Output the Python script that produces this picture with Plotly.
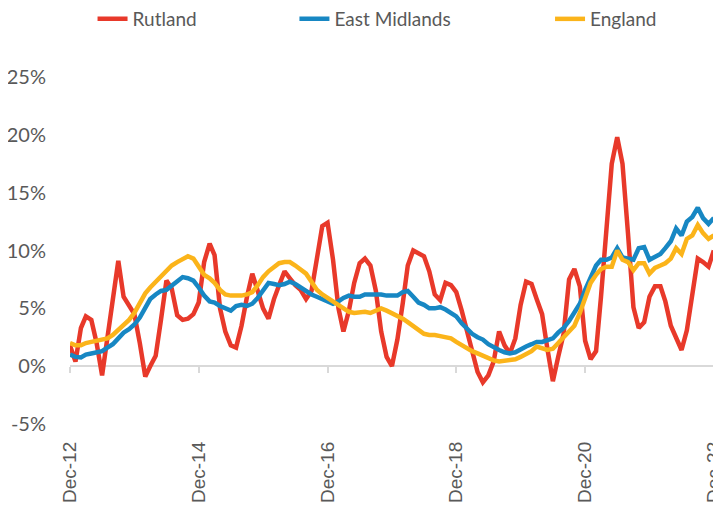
import pandas as pd
import plotly.graph_objects as go

# Monthly dates, Dec-2012 .. Dec-2022
months = pd.date_range("2012-12-01", "2022-12-01", freq="MS")

rutland = [
    1.8, 0.4, 3.3, 4.3, 4.0, 2.0, -0.8, 2.5, 6.0, 9.1,
    6.0, 5.2, 4.5, 2.0, -0.9, 0.0, 0.9, 4.0, 7.4, 6.7,
    4.4, 4.0, 4.1, 4.5, 5.5, 9.0, 10.6, 9.6, 5.0, 3.0,
    1.8, 1.6, 3.5, 6.0, 8.0, 6.5, 5.0, 4.1, 5.8, 7.0,
    8.2, 7.6, 7.0, 6.6, 5.8, 6.5, 9.5, 12.1, 12.4, 9.2,
    5.0, 3.0, 4.8, 7.2, 8.9, 9.3, 8.7, 6.5, 3.0, 0.8,
    0.0, 2.3, 5.5, 8.7, 10.0, 9.8, 9.5, 8.2, 6.2, 5.7,
    7.2, 7.0, 6.4, 4.8, 3.0, 1.3, -0.5, -1.4, -0.8, 0.4,
    3.0, 1.8, 1.1, 2.4, 5.3, 7.3, 7.1, 5.8, 4.5, 1.5,
    -1.3, 0.8, 2.8, 7.5, 8.4, 6.9, 2.2, 0.6, 1.3, 6.0,
    12.3, 17.5, 19.8, 17.5, 11.5, 5.1, 3.3, 3.8, 6.0, 6.9,
    6.9, 5.6, 3.5, 2.5, 1.4, 3.1, 6.5, 9.3, 9.0, 8.6,
    10.0,
]

east_midlands = [
    1.0, 0.8, 0.75, 1.0, 1.1, 1.2, 1.3, 1.6, 1.9, 2.4,
    2.9, 3.2, 3.6, 4.2, 5.0, 5.8, 6.2, 6.5, 6.6, 7.0,
    7.3, 7.7, 7.6, 7.4, 6.8, 6.1, 5.6, 5.5, 5.2, 5.0,
    4.8, 5.2, 5.3, 5.2, 5.4, 5.9, 6.6, 7.2, 7.1, 7.0,
    7.1, 7.3, 7.1, 6.8, 6.4, 6.2, 6.0, 5.8, 5.6, 5.4,
    5.6, 5.9, 6.1, 6.0, 6.0, 6.2, 6.2, 6.2, 6.2, 6.1,
    6.1, 6.1, 6.4, 6.5, 6.0, 5.5, 5.3, 5.0, 5.0, 5.1,
    4.9, 4.6, 4.3, 3.7, 3.2, 2.8, 2.5, 2.3, 1.9, 1.6,
    1.4, 1.2, 1.1, 1.2, 1.5, 1.7, 1.9, 2.1, 2.1, 2.2,
    2.4, 2.9, 3.3, 3.9, 4.6, 5.4, 6.6, 7.7, 8.7, 9.2,
    9.2, 9.4, 10.2, 9.4, 9.3, 9.2, 10.2, 10.3, 9.2, 9.4,
    9.7, 10.2, 10.8, 11.9, 11.3, 12.5, 12.9, 13.7, 12.8, 12.3,
    12.8,
]

england = [
    2.0, 1.8, 1.8, 2.0, 2.1, 2.2, 2.3, 2.4, 2.7, 3.1,
    3.6, 4.0, 4.6, 5.4, 6.3, 6.8, 7.3, 7.8, 8.3, 8.7,
    9.0, 9.2, 9.5, 9.3, 8.6, 7.9, 7.6, 7.2, 6.6, 6.2,
    6.1, 6.1, 6.1, 6.2, 6.4, 7.0, 7.7, 8.2, 8.6, 8.9,
    9.0, 9.0, 8.7, 8.4, 8.0, 7.3, 6.6, 6.2, 5.9, 5.5,
    5.2, 4.9, 4.7, 4.6, 4.7, 4.7, 4.6, 4.8, 5.0, 4.8,
    4.6, 4.4, 4.1, 3.8, 3.5, 3.1, 2.8, 2.7, 2.7, 2.6,
    2.5, 2.4, 2.1, 1.8, 1.5, 1.3, 1.1, 0.9, 0.7, 0.5,
    0.4, 0.45, 0.5, 0.6, 0.8, 1.0, 1.3, 1.7, 1.5, 1.4,
    1.5, 2.0, 2.5, 3.0, 3.5, 4.6, 6.0, 7.2, 7.9, 8.4,
    8.6, 8.6, 10.0, 9.2, 9.0, 8.3, 8.9, 8.9, 8.0, 8.5,
    8.7, 8.9, 9.3, 10.2, 9.7, 11.0, 11.3, 12.2, 11.5, 11.0,
    11.3,
]

tick_dates = ["2012-12-01", "2014-12-01", "2016-12-01", "2018-12-01", "2020-12-01", "2022-12-01"]
tick_labels = ["Dec-12", "Dec-14", "Dec-16", "Dec-18", "Dec-20", "Dec-22"]
y_ticks = [-5, 0, 5, 10, 15, 20, 25]
y_tick_labels = ["-5%", "0%", "5%", "10%", "15%", "20%", "25%"]

series = [
    ("Rutland", rutland, "#E8392A", "legend"),
    ("East Midlands", east_midlands, "#1787C3", "legend2"),
    ("England", england, "#FBB41A", "legend3"),
]

fig = go.Figure()
for name, vals, color, lg in series:
    fig.add_trace(go.Scatter(
        x=months, y=vals, name=name, mode="lines",
        line=dict(color=color, width=4.5),
        legend=lg,
    ))

# helper trace for the tick marks axis on the zero line
fig.add_trace(go.Scatter(
    x=[months[0]], y=[0], xaxis="x2", mode="markers",
    marker=dict(opacity=0), showlegend=False, hoverinfo="skip",
))

TXT = "#595959"
W, H = 713, 500  # page body has an 8px margin
legend_common = dict(
    orientation="h", yanchor="middle", xanchor="left",
    yref="container", y=1 - 11 / H,
    font=dict(family="Lato", size=19, color=TXT),
    bgcolor="rgba(0,0,0,0)", borderwidth=0,
)

x_range = ["2012-12-01", "2022-12-02"]

fig.update_layout(
    width=W, height=H,
    margin=dict(l=62, r=7, t=69, b=84, autoexpand=False),
    paper_bgcolor="white", plot_bgcolor="white",
    showlegend=True,
    legend=dict(legend_common, x=0.035),
    legend2=dict(legend_common, x=0.3485),
    legend3=dict(legend_common, x=0.7454),
    xaxis=dict(
        type="date", range=x_range, automargin=False,
        tickvals=tick_dates, ticktext=tick_labels,
        tickangle=-90, showgrid=False, showline=False, zeroline=False,
        ticks="", ticklabelstandoff=13, ticklabeloverflow="allow",
        tickfont=dict(family="Liberation Sans", size=19, color=TXT),
    ),
    xaxis2=dict(
        type="date", range=x_range, overlaying="x", anchor="free",
        position=5 / 30, tickvals=tick_dates, showticklabels=False,
        ticks="outside", ticklen=6, tickwidth=2, tickcolor="#D9D9D9",
        showgrid=False, showline=False, zeroline=False, automargin=False,
    ),
    yaxis=dict(
        range=[-5, 25], tickvals=y_ticks, ticktext=y_tick_labels,
        showgrid=False, showline=False, automargin=False,
        zeroline=True, zerolinecolor="#D9D9D9", zerolinewidth=2,
        ticks="", ticklabelstandoff=23,
        tickfont=dict(family="Lato", size=20, color=TXT),
    ),
)

fig.write_html("out.html")
